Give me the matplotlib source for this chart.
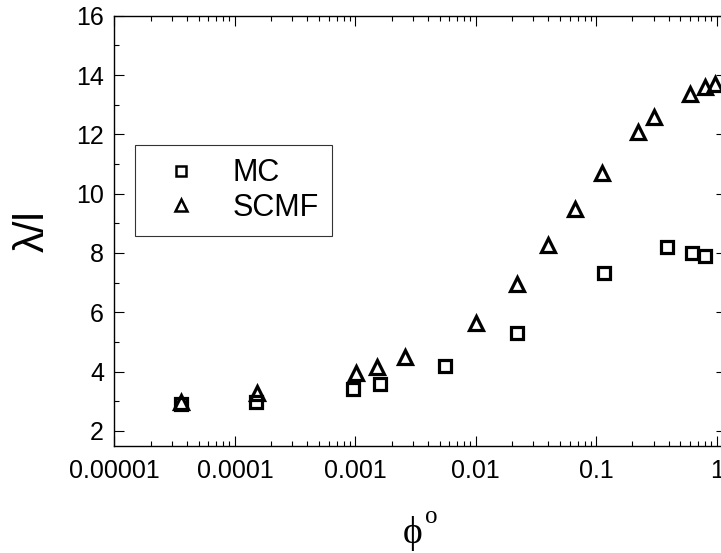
#!/usr/bin/env python3
# -*- coding: utf-8 -*-
"""
lambda/l versus phi^o : MC vs SCMF (log x axis)
"""

import matplotlib
matplotlib.use('Agg')
import matplotlib.pyplot as plt
from matplotlib.lines import Line2D
from matplotlib.ticker import LogLocator, MultipleLocator, FixedLocator, FixedFormatter, NullFormatter

# --- data ---
mc_phi = [3.6e-5, 1.5e-4, 9.6e-4, 1.6e-3, 5.6e-3, 2.2e-2, 0.115, 0.39, 0.62, 0.80]
mc_lam = [2.91, 2.98, 3.41, 3.57, 4.19, 5.30, 7.33, 8.21, 8.01, 7.91]

scmf_phi = [3.6e-5, 1.52e-4, 1.01e-3, 1.51e-3, 2.6e-3, 0.010, 0.022, 0.040,
            0.067, 0.111, 0.221, 0.303, 0.603, 0.80, 0.97]
scmf_lam = [2.98, 3.29, 3.94, 4.14, 4.48, 5.64, 6.95, 8.27,
            9.48, 10.68, 12.09, 12.57, 13.36, 13.58, 13.70]

x_ticks = [1e-5, 1e-4, 1e-3, 1e-2, 1e-1, 1]
x_tick_labels = ['0.00001', '0.0001', '0.001', '0.01', '0.1', '1']
y_ticks = [2, 4, 6, 8, 10, 12, 14, 16]

series_labels = ['MC', 'SCMF']

SANS = ['Liberation Sans', 'DejaVu Sans']
SERIF = ['Liberation Serif', 'DejaVu Serif']

plt.rcParams['font.family'] = SANS
plt.rcParams['axes.unicode_minus'] = False


def style_axes(ax):
    """inward ticks on all four sides, thin black frame"""
    for side in ['left', 'right', 'top', 'bottom']:
        ax.spines[side].set_linewidth(1.0)
        ax.spines[side].set_color('black')
    ax.tick_params(which='both', direction='in', top=True, right=True,
                   width=0.8, colors='black')
    ax.tick_params(which='major', length=7.2)
    ax.tick_params(which='minor', length=3.6)
    ax.tick_params(axis='x', which='major', labelsize=18, pad=9.5)
    ax.tick_params(axis='y', which='major', labelsize=18, pad=7.5)


fig = plt.figure(figsize=(7.21, 5.53), dpi=100)
ax = fig.add_axes([0.1588, 0.194, 0.8481, 0.7776])

# squares and open triangles
ax.plot(mc_phi, mc_lam, linestyle='none', marker='s', markersize=8.5,
        markerfacecolor='none', markeredgecolor='black', markeredgewidth=2.3)
ax.plot(scmf_phi, scmf_lam, linestyle='none', marker='^', markersize=10.5,
        markerfacecolor='none', markeredgecolor='black', markeredgewidth=2.3)

ax.set_xscale('log')
ax.set_xlim(1e-5, 1.195)
ax.set_ylim(1.5, 16)

ax.xaxis.set_major_locator(FixedLocator(x_ticks))
ax.xaxis.set_major_formatter(FixedFormatter(x_tick_labels))
ax.xaxis.set_minor_locator(LogLocator(base=10, subs=range(2, 10), numticks=20))
ax.xaxis.set_minor_formatter(NullFormatter())
ax.yaxis.set_major_locator(FixedLocator(y_ticks))
ax.yaxis.set_minor_locator(MultipleLocator(1))

style_axes(ax)

# axis titles
ax.set_ylabel('λ/l', fontsize=30)
ax.yaxis.set_label_coords(-0.101, 0.5)
fig.text(412.5 / 721, 1 - 543 / 553, '\u03d5', family=SERIF, fontsize=27,
         ha='center', va='baseline')
fig.text(425 / 721, 1 - 523 / 553, 'o', family=SERIF, fontsize=18,
         ha='left', va='baseline')

# legend with thinner handles
handles = [
    Line2D([], [], linestyle='none', marker='s', markersize=6.5,
           markerfacecolor='none', markeredgecolor='black', markeredgewidth=1.8),
    Line2D([], [], linestyle='none', marker='^', markersize=8.5,
           markerfacecolor='none', markeredgecolor='black', markeredgewidth=1.8),
]
legend = ax.legend(handles, series_labels, loc='upper left',
                   bbox_to_anchor=(0.0335, 0.6993), borderaxespad=0,
                   fontsize=22, frameon=True, fancybox=False, shadow=False,
                   borderpad=0.44, handlelength=2.16, handletextpad=0.58,
                   labelspacing=0.15)
legend.get_frame().set_edgecolor('black')
legend.get_frame().set_linewidth(0.8)

fig.savefig('out.png', dpi=100, facecolor='white')
plt.close(fig)
